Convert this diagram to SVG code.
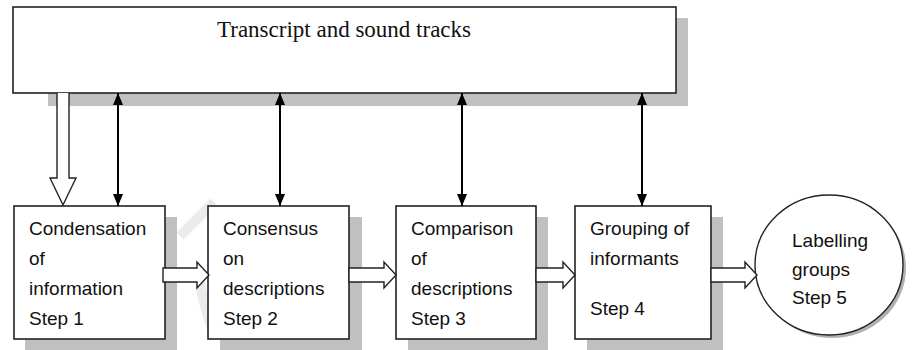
<svg xmlns="http://www.w3.org/2000/svg" width="912" height="350" viewBox="0 0 912 350">
<defs>
<style>
.shadow{fill:#c0c0c0}
.box{fill:#fff;stroke:#222;stroke-width:1.6}
.lbl{font-family:"Liberation Sans",Arial,sans-serif;font-size:19px;fill:#111}
.title{font-family:"Liberation Serif","Times New Roman",serif;font-size:23px;fill:#111}
.dbl{stroke:#000;stroke-width:2;fill:none;marker-start:url(#ah);marker-end:url(#ah)}
.hollow{fill:#fff;stroke:#222;stroke-width:1.4;stroke-linejoin:miter}
</style>
<marker id="ah" viewBox="0 0 12 10" refX="12" refY="5" markerWidth="12" markerHeight="10" markerUnits="userSpaceOnUse" orient="auto-start-reverse">
<path d="M0,0 L12,5 L0,10 Z" fill="#000"/>
</marker>
</defs>
<rect width="912" height="350" fill="#fff"/>
<g id="watermark" fill="none" stroke="#ebebeb" stroke-width="10">
<path d="M180 236 L214 202"/>
<path d="M200 282 Q204 310 214 332"/>
</g>
<g id="top">
<rect class="shadow" x="48" y="18" width="640" height="88"/>
<rect class="box" x="13" y="7" width="663" height="86"/>
<text class="title" x="217" y="37">Transcript and sound tracks</text>
</g>
<g id="step1">
<rect class="shadow" x="25" y="217" width="152" height="133"/>
<rect class="box" x="14" y="206" width="151" height="133"/>
<text class="lbl" x="29" y="235">Condensation</text>
<text class="lbl" x="29" y="265">of</text>
<text class="lbl" x="29" y="295">information</text>
<text class="lbl" x="29" y="325">Step 1</text>
</g>
<g id="step2">
<rect class="shadow" x="220" y="217" width="142" height="133"/>
<rect class="box" x="208" y="206" width="141" height="133"/>
<text class="lbl" x="223" y="235">Consensus</text>
<text class="lbl" x="223" y="265">on</text>
<text class="lbl" x="223" y="295">descriptions</text>
<text class="lbl" x="223" y="325">Step 2</text>
</g>
<g id="step3">
<rect class="shadow" x="408" y="217" width="140" height="133"/>
<rect class="box" x="396" y="206" width="140" height="133"/>
<text class="lbl" x="411" y="235">Comparison</text>
<text class="lbl" x="411" y="265">of</text>
<text class="lbl" x="411" y="295">descriptions</text>
<text class="lbl" x="411" y="325">Step 3</text>
</g>
<g id="step4">
<rect class="shadow" x="587" y="217" width="136" height="133"/>
<rect class="box" x="575" y="206" width="136" height="133"/>
<text class="lbl" x="590" y="235">Grouping of</text>
<text class="lbl" x="590" y="265">informants</text>
<text class="lbl" x="590" y="315">Step 4</text>
</g>
<g id="step5">
<ellipse cx="832" cy="268" rx="74" ry="70" fill="#b0b0b0"/>
<ellipse cx="829" cy="265" rx="74" ry="70" fill="#fff" stroke="#222" stroke-width="1.4"/>
<text class="lbl" x="792" y="247">Labelling</text>
<text class="lbl" x="792" y="276">groups</text>
<text class="lbl" x="792" y="304">Step 5</text>
</g>
<g id="connectors">
<path class="hollow" d="M57 93 L57 178 L50 178 L63 205 L76 178 L69 178 L69 93"/>
<line class="dbl" x1="118" y1="93" x2="118" y2="206"/>
<line class="dbl" x1="280" y1="93" x2="280" y2="206"/>
<line class="dbl" x1="462" y1="93" x2="462" y2="206"/>
<line class="dbl" x1="642" y1="93" x2="642" y2="206"/>
<path class="hollow" d="M163 268 L197 268 L197 262 L209 275 L197 288 L197 282 L163 282 Z"/>
<path class="hollow" d="M349 268 L384 268 L384 262 L396 275 L384 288 L384 282 L349 282 Z"/>
<path class="hollow" d="M536 268 L563 268 L563 262 L575 275 L563 288 L563 282 L536 282 Z"/>
<path class="hollow" d="M711 268 L745 268 L745 262 L757 275 L745 288 L745 282 L711 282 Z"/>
</g>
</svg>
